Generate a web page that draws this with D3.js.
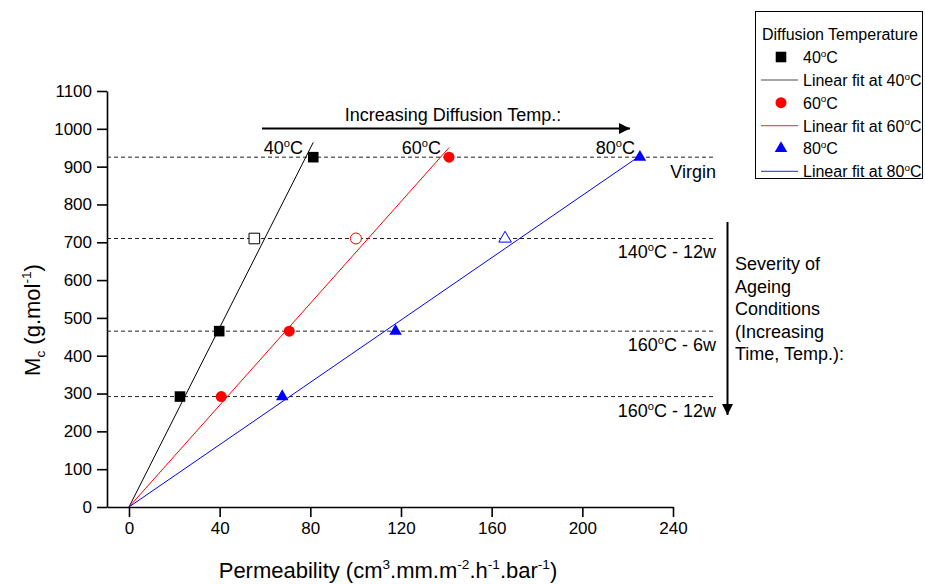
<!DOCTYPE html>
<html>
<head>
<meta charset="utf-8">
<script src="https://cdn.jsdelivr.net/npm/d3@7"></script>
<style>
  body { margin: 0; background: #fff; }
  text { font-family: "Liberation Sans", Arial, sans-serif; fill: #000; }
</style>
</head>
<body>
<div id="chart-area"></div>
<script>

// data
var temps = ["40", "60", "80"];
var colors = ["#000000", "#ff0000", "#0000ff"];
var shapes = ["square", "circle", "triangle"];

// Mc levels for each ageing condition (virgin -> most aged)
var levels = [925, 710, 465, 292];
var levelNames = ["Virgin", "140°C - 12w", "160°C - 6w", "160°C - 12w"];

// permeability at each level, per diffusion temperature
var perm40 = [81.3, 55.3, 39.8, 22.5];
var perm60 = [141.2, 100.1, 70.7, 40.7];
var perm80 = [225.4, 165.9, 117.6, 67.6];
var perms = [perm40, perm60, perm80];

// linear fits through origin (slope, last x)
var fitSlope = [11.86, 6.73, 4.12];
var fitEnd = [81.3, 141.2, 225.4];

var xTicks = [0, 40, 80, 120, 160, 200, 240];
var yTicks = [0, 100, 200, 300, 400, 500, 600, 700, 800, 900, 1000, 1100];

var margin = {left:107, right:252, top:91, bottom:77};

var width = 925 - margin.left - margin.right,
	height = 584 - margin.top - margin.bottom;

var svg = d3.select("#chart-area")
	.append("svg")
		.attr("width", 925)
		.attr("height", 584);

var g = svg.append("g")
	.attr("transform", "translate(" + margin.left + "," + margin.top + ")");

var x = d3.scaleLinear()
	.domain([-9.7, 240])
	.range([0, width]);

var y = d3.scaleLinear()
	.domain([0, 1100])
	.range([height, 0]);

// text with super/subscripts: parts = [[str, "sup"|"sub"|undefined], ...]
function rich(t, parts, fs) {
	var shift = 0;
	parts.forEach(function(p){
		var target = p[1] == "sup" ? -0.4 * fs : (p[1] == "sub" ? 0.22 * fs : 0);
		t.append("tspan")
			.attr("dy", target - shift)
			.attr("font-size", p[1] ? fs * 0.62 : fs)
			.text(p[0]);
		shift = target;
	});
	return t;
}

function degParts(s) {
	// "140°C - 12w" -> ["140"], ["o", sup], ["C - 12w"]
	var i = s.indexOf("°");
	return [[s.slice(0, i)], ["o", "sup"], [s.slice(i + 1)]];
}

function symbolFor(shape) {
	if (shape == "square") return d3.symbol().type(d3.symbolSquare).size(112)();
	if (shape == "circle") return d3.symbol().type(d3.symbolCircle).size(95)();
	return d3.symbol().type(d3.symbolTriangle).size(68)();
}

// axes
var xAxisCall = d3.axisBottom(x)
	.tickValues(xTicks)
	.tickSize(10)
	.tickSizeOuter(0)
	.tickPadding(5);
g.append("g")
	.attr("class", "x-axis")
	.attr("transform", "translate(0," + height + ")")
	.call(xAxisCall);

var yAxisCall = d3.axisLeft(y)
	.tickValues(yTicks)
	.tickFormat(d3.format("d"))
	.tickSize(10)
	.tickSizeOuter(0)
	.tickPadding(5);
g.append("g")
	.attr("class", "y-axis")
	.call(yAxisCall);

g.selectAll(".x-axis text, .y-axis text")
	.attr("font-size", 17)
	.attr("font-family", "Liberation Sans, Arial, sans-serif")
	.attr("fill", "#000");
g.selectAll(".x-axis path, .y-axis path, .x-axis line, .y-axis line")
	.attr("stroke", "#000")
	.attr("stroke-width", 1.6);

// ageing condition levels
g.selectAll(".level")
	.data(levels)
	.enter()
	.append("line")
		.attr("class", "level")
		.attr("x1", 0)
		.attr("x2", x(259))
		.attr("y1", function(d){ return y(d); })
		.attr("y2", function(d){ return y(d); })
		.attr("stroke", "#222")
		.attr("stroke-width", 1)
		.attr("stroke-dasharray", "4,3");

var levelLabelY = [178 - margin.top, 258 - margin.top, 351 - margin.top, 417 - margin.top];
levelNames.forEach(function(n, i){
	var t = g.append("text")
		.attr("x", x(259))
		.attr("y", levelLabelY[i])
		.attr("text-anchor", "end");
	if (n.indexOf("°") < 0) t.attr("font-size", 18).text(n);
	else rich(t, degParts(n), 18);
});

// linear fits
temps.forEach(function(t, i){
	g.append("line")
		.attr("x1", x(0))
		.attr("y1", y(0))
		.attr("x2", x(fitEnd[i]))
		.attr("y2", y(fitSlope[i] * fitEnd[i]))
		.attr("stroke", colors[i])
		.attr("stroke-width", 1);
});

// points (the 140°C - 12w point is drawn open)
temps.forEach(function(t, i){
	g.selectAll(".pt" + t)
		.data(perms[i])
		.enter()
		.append("path")
			.attr("class", "pt" + t)
			.attr("d", symbolFor(shapes[i]))
			.attr("transform", function(d, j){
				return "translate(" + x(d) + "," + y(levels[j]) + ")";
			})
			.attr("fill", function(d, j){ return j == 1 ? "#fff" : colors[i]; })
			.attr("stroke", colors[i])
			.attr("stroke-width", function(d, j){ return j == 1 ? 1 : 0; });
});

// temperature labels above the virgin line
var tempLabelX = [303, 441, 635];
temps.forEach(function(t, i){
	rich(svg.append("text")
		.attr("x", tempLabelX[i])
		.attr("y", 154)
		.attr("text-anchor", "end"), degParts(t + "°C"), 18);
});

// arrows
var defs = svg.append("defs");
defs.append("marker")
	.attr("id", "head")
	.attr("viewBox", "0 0 10 10")
	.attr("refX", 10)
	.attr("refY", 5)
	.attr("markerUnits", "userSpaceOnUse")
	.attr("markerWidth", 14)
	.attr("markerHeight", 11)
	.attr("orient", "auto")
	.append("path")
		.attr("d", "M0,0L10,5L0,10Z")
		.attr("fill", "#000");

svg.append("line")
	.attr("x1", 262).attr("y1", 128.5)
	.attr("x2", 630).attr("y2", 128.5)
	.attr("stroke", "#000")
	.attr("stroke-width", 2)
	.attr("marker-end", "url(#head)");

svg.append("text")
	.attr("x", 453)
	.attr("y", 121)
	.attr("text-anchor", "middle")
	.attr("font-size", 18)
	.text("Increasing Diffusion Temp.:");

svg.append("line")
	.attr("x1", 727.5).attr("y1", 222)
	.attr("x2", 727.5).attr("y2", 415)
	.attr("stroke", "#000")
	.attr("stroke-width", 2)
	.attr("marker-end", "url(#head)");

var severity = ["Severity of", "Ageing", "Conditions", "(Increasing", "Time, Temp.):"];
svg.append("g").selectAll("text")
	.data(severity)
	.enter()
	.append("text")
		.attr("x", 735)
		.attr("y", function(d, i){ return 270 + i * 22.5; })
		.attr("font-size", 18)
		.text(function(d){ return d; });

// axis titles
rich(svg.append("text")
	.attr("x", 388)
	.attr("y", 578)
	.attr("text-anchor", "middle"),
	[["Permeability (cm"], ["3", "sup"], [".mm.m"], ["-2", "sup"], [".h"], ["-1", "sup"], [".bar"], ["-1", "sup"], [")"]], 22);

rich(svg.append("text")
	.attr("transform", "translate(40,320) rotate(-90)")
	.attr("text-anchor", "middle"),
	[["M"], ["c", "sub"], [" (g.mol"], ["-1", "sup"], [")"]], 22);

// legend
var legend = svg.append("g")
	.attr("transform", "translate(755,11)");

legend.append("rect")
	.attr("x", 0.5).attr("y", 0.5)
	.attr("width", 167).attr("height", 167)
	.attr("fill", "#fff")
	.attr("stroke", "#000")
	.attr("stroke-width", 1);

legend.append("text")
	.attr("x", 7)
	.attr("y", 29)
	.attr("font-size", 16)
	.text("Diffusion Temperature");

temps.forEach(function(t, i){
	var cy = 46 + i * 45.7;
	legend.append("path")
		.attr("d", symbolFor(shapes[i]))
		.attr("transform", "translate(26," + cy + ")")
		.attr("fill", colors[i]);
	rich(legend.append("text")
		.attr("x", 48)
		.attr("y", cy + 6), degParts(t + "°C"), 16);

	var ly = cy + 23;
	legend.append("line")
		.attr("x1", 6).attr("x2", 43)
		.attr("y1", ly).attr("y2", ly)
		.attr("stroke", colors[i])
		.attr("stroke-opacity", 0.7)
		.attr("stroke-width", 1.2);
	rich(legend.append("text")
		.attr("x", 48)
		.attr("y", ly + 6), degParts("Linear fit at " + t + "°C"), 16);
});

</script>
</body>
</html>
